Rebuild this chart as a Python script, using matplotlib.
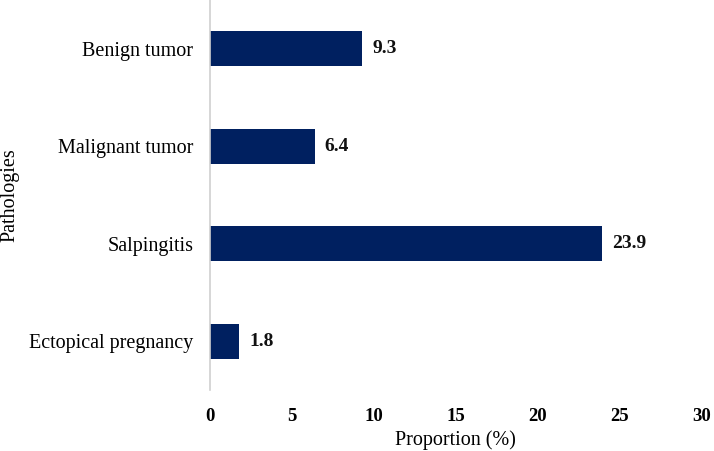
import matplotlib
matplotlib.use("Agg")
import matplotlib.pyplot as plt

categories = ["Ectopical pregnancy", "Salpingitis", "Malignant tumor", "Benign tumor"]
values = [1.8, 23.9, 6.4, 9.3]
xticks = [0, 5, 10, 15, 20, 25, 30]

plt.rcParams['font.family'] = ['Liberation Serif', 'DejaVu Serif']

fig = plt.figure(figsize=(7.14, 4.51), dpi=100)
ax = fig.add_axes([0.294, 0.135, 0.689, 0.865])

y = range(len(categories))
ax.barh(y, values, height=0.36, color='#002060')
for yi, v in zip(y, values):
    ax.text(v + 0.6, yi, f"{v}", va='center', ha='left', fontsize=14, fontweight='bold', color='#111111')

ax.set_ylim(-0.5, 3.5)
ax.set_xlim(0, 30)
ax.set_yticks(list(y))
ax.set_yticklabels(categories, fontsize=14.5)
ax.set_xticks(xticks)
ax.set_xticklabels([str(t) for t in xticks], fontsize=13.5, fontweight='bold')
ax.tick_params(axis='both', length=0)
ax.tick_params(axis='y', pad=12)
ax.tick_params(axis='x', pad=13)
for s in ['top', 'right', 'bottom']:
    ax.spines[s].set_visible(False)
ax.spines['left'].set_color('#d0d0d0')
ax.spines['left'].set_linewidth(1.2)
ax.set_xlabel("Proportion (%)", fontsize=14.5)
ax.xaxis.set_label_coords(0.5, -0.104)
ax.set_ylabel("Pathologies", fontsize=14.5)
ax.yaxis.set_label_coords(-0.387, 0.5)

fig.savefig("out.png", dpi=100)
